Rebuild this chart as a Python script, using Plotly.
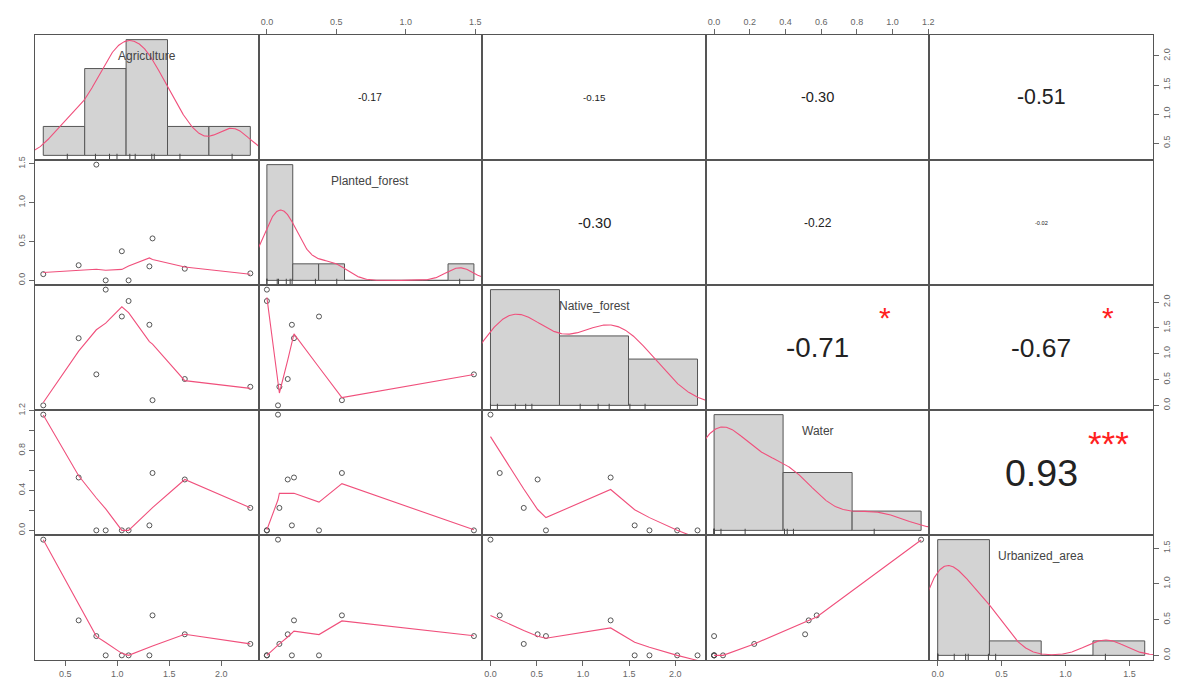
import numpy as np
import plotly.graph_objects as go

# ---------------- data ----------------
var_names = ["Agriculture", "Planted_forest", "Native_forest", "Water", "Urbanized_area"]
agriculture = [0.29, 0.63, 0.80, 0.89, 1.045, 1.11, 1.31, 1.34, 1.65, 2.28]
planted_forest = [0.08, 0.195, 1.49, 0.0, 0.375, 0.0, 0.18, 0.54, 0.15, 0.09]
native_forest = [0.0, 1.30, 0.60, 2.24, 1.72, 2.02, 1.56, 0.10, 0.51, 0.36]
water = [1.16, 0.53, 0.0, 0.0, 0.0, 0.0, 0.05, 0.575, 0.51, 0.225]
urbanized_area = [1.62, 0.49, 0.27, 0.0, 0.0, 0.0, 0.0, 0.56, 0.295, 0.16]

hist_bin_width = [0.5, 0.2, 1.0, 0.5, 0.5]

cor_pairs = [(0, 1), (0, 2), (0, 3), (0, 4), (1, 2), (1, 3), (1, 4), (2, 3), (2, 4), (3, 4)]
cor_values = [-0.17, -0.15, -0.30, -0.51, -0.30, -0.22, -0.02, -0.71, -0.67, 0.93]
cor_stars = ["", "", "", "", "", "", "", "*", "*", "***"]

tick_values = [
    [0.5, 1.0, 1.5, 2.0],
    [0.0, 0.5, 1.0, 1.5],
    [0.0, 0.5, 1.0, 1.5, 2.0],
    [0.0, 0.2, 0.4, 0.6, 0.8, 1.0, 1.2],
    [0.0, 0.5, 1.0, 1.5],
]
tick_labels = [
    ["0.5", "1.0", "1.5", "2.0"],
    ["0.0", "0.5", "1.0", "1.5"],
    ["0.0", "0.5", "1.0", "1.5", "2.0"],
    ["0.0", "0.2", "0.4", "0.6", "0.8", "1.0", "1.2"],
    ["0.0", "0.5", "1.0", "1.5"],
]
tick_labels_left_water = ["0.0", "", "0.4", "", "0.8", "", "1.2"]

data = [np.array(v, dtype=float) for v in
        (agriculture, planted_forest, native_forest, water, urbanized_area)]
N = len(data)

# ---------------- helpers ----------------
RED = "#f0507c"
BOX = "#555555"
TICKC = "#666666"
FONT = "Liberation Sans, Arial, sans-serif"


def pad(lo, hi):
    d = hi - lo
    return [lo - 0.04 * d, hi + 0.04 * d]


def lowess(x, y, f=2 / 3, it=3):
    o = np.argsort(x, kind="mergesort")
    x = np.asarray(x, float)[o]
    y = np.asarray(y, float)[o]
    n = len(x)
    ns = max(2, min(n, int(f * n + 1e-7)))
    rw = np.ones(n)
    ys = np.zeros(n)
    rng = x[-1] - x[0]
    for iteration in range(it + 1):
        nleft, nright = 0, ns - 1
        for i in range(n):
            xs = x[i]
            while nright < n - 1 and xs - x[nleft] > x[nright + 1] - xs:
                nleft += 1
                nright += 1
            h = max(xs - x[nleft], x[nright] - xs)
            h9, h1 = 0.999 * h, 0.001 * h
            w = np.zeros(n)
            for j in range(nleft, n):
                r = abs(x[j] - xs)
                if r <= h9:
                    w[j] = 1.0 if r <= h1 else (1 - (r / h) ** 3) ** 3
                    w[j] *= rw[j]
                elif x[j] > xs:
                    break
            s = w.sum()
            if s <= 0:
                ys[i] = y[i]
                continue
            w = w / s
            if h > 0:
                a = np.sum(w * x)
                b = xs - a
                c = np.sum(w * (x - a) ** 2)
                if np.sqrt(c) > 0.001 * rng:
                    b /= c
                    w = w * (b * (x - a) + 1)
            ys[i] = np.sum(w * y)
        if iteration == it:
            break
        res = y - ys
        sc = np.mean(np.abs(res))
        cmad = 6 * np.median(np.abs(res))
        if cmad < 1e-7 * sc or cmad == 0:
            break
        r = np.abs(res)
        rw = np.where(r <= 0.001 * cmad, 1.0,
                      np.where(r <= 0.999 * cmad, (1 - (r / cmad) ** 2) ** 2, 0.0))
    return x, ys


def density(x, n=512):
    x = np.asarray(x, float)
    sd = np.std(x, ddof=1)
    q1, q3 = np.percentile(x, [25, 75])
    lo = min(sd, (q3 - q1) / 1.34)
    if lo <= 0:
        lo = sd if sd > 0 else (abs(x[0]) if x[0] != 0 else 1.0)
    bw = 0.9 * lo * len(x) ** (-0.2)
    g = np.linspace(x.min() - 3 * bw, x.max() + 3 * bw, n)
    d = np.exp(-0.5 * ((g[:, None] - x[None, :]) / bw) ** 2).sum(axis=1) / (len(x) * bw * np.sqrt(2 * np.pi))
    return g, d


def hist(x, bw):
    b0 = np.floor(x.min() / bw + 1e-9) * bw
    b1 = np.ceil(x.max() / bw - 1e-9) * bw
    nb = int(round((b1 - b0) / bw))
    breaks = b0 + bw * np.arange(nb + 1)
    counts = np.zeros(nb)
    for v in x:
        for k in range(nb):
            lo, hi = breaks[k], breaks[k + 1]
            if (v > lo + 1e-12 or (k == 0 and v >= lo - 1e-12)) and v <= hi + 1e-12:
                counts[k] += 1
                break
    dens = counts / (len(x) * bw)
    return breaks, dens


def ax_id(k):
    return "" if k == 1 else str(k)


fig = go.Figure()
# the page body has an 8px margin: the figure is sized so that it fits the
# window without overflow and the panels land where the reference has them
layout = dict(
    width=1164, height=671,
    margin=dict(l=27, r=19, t=27, b=19, autoexpand=False),
    plot_bgcolor="white", paper_bgcolor="white",
    showlegend=False,
    font=dict(family=FONT, color="#444"),
)
annotations = []

base_axis = dict(showgrid=False, zeroline=False, showline=True, mirror=True,
                 linecolor=BOX, linewidth=1, ticks="", showticklabels=False,
                 fixedrange=True, automargin=False)

tick_style = dict(ticks="outside", ticklen=5, tickwidth=1, tickcolor=TICKC,
                  showticklabels=True, tickfont=dict(size=9, color=TICKC, family=FONT))

var_ranges = [pad(d.min(), d.max()) for d in data]

for i in range(N):
    for j in range(N):
        k = i * N + j + 1
        sid = ax_id(k)
        xd = [j / N, (j + 1) / N]
        yd = [1 - (i + 1) / N, 1 - i / N]
        xa = dict(base_axis, domain=xd, anchor="y" + sid)
        ya = dict(base_axis, domain=yd, anchor="x" + sid)

        if i == j:
            x = data[i]
            breaks, dens = hist(x, hist_bin_width[i])
            xr = pad(breaks[0], breaks[-1])
            yr = pad(0, dens.max())
            xa["range"] = xr
            ya["range"] = yr
            centers = (breaks[:-1] + breaks[1:]) / 2
            fig.add_trace(go.Bar(
                x=centers, y=dens, width=hist_bin_width[i],
                marker=dict(color="#d3d3d3", line=dict(color=BOX, width=1)),
                xaxis="x" + sid, yaxis="y" + sid, hoverinfo="skip"))
            g, d = density(x)
            fig.add_trace(go.Scatter(
                x=g, y=d, mode="lines", line=dict(color=RED, width=1.1),
                xaxis="x" + sid, yaxis="y" + sid, hoverinfo="skip"))
            # rug
            ybot = yr[0]
            ytop = yr[0] + 0.05 * (yr[1] - yr[0])
            rx, ry = [], []
            for v in x:
                rx += [v, v, None]
                ry += [ybot, ytop, None]
            fig.add_trace(go.Scatter(
                x=rx, y=ry, mode="lines", line=dict(color="#444", width=1),
                xaxis="x" + sid, yaxis="y" + sid, hoverinfo="skip"))
            annotations.append(dict(
                text=var_names[i], x=0.5, y=0.833, xanchor="center", yanchor="middle",
                xref="x" + sid + " domain", yref="y" + sid + " domain",
                showarrow=False, font=dict(size=12, color="#444", family=FONT)))
        else:
            xa["range"] = var_ranges[j]
            ya["range"] = var_ranges[i]
            if i > j:
                fig.add_trace(go.Scatter(
                    x=data[j], y=data[i], mode="markers",
                    marker=dict(symbol="circle-open", size=5, color="#444",
                                line=dict(width=0.9)),
                    xaxis="x" + sid, yaxis="y" + sid, hoverinfo="skip"))
                lx, ly = lowess(data[j], data[i])
                fig.add_trace(go.Scatter(
                    x=lx, y=ly, mode="lines", line=dict(color=RED, width=1.1),
                    xaxis="x" + sid, yaxis="y" + sid, hoverinfo="skip"))
            else:
                # empty trace so the panel (and its axes) is drawn
                fig.add_trace(go.Scatter(
                    x=[None], y=[None], mode="markers",
                    xaxis="x" + sid, yaxis="y" + sid, hoverinfo="skip"))
                idx = cor_pairs.index((i, j))
                r = cor_values[idx]
                txt = f"{r:.2f}"
                size = 32 * abs(r) + 5
                if not txt.startswith("-"):
                    size *= 1.08
                annotations.append(dict(
                    text=txt, x=0.5, y=0.5, xanchor="center", yanchor="middle",
                    xref="x" + sid + " domain", yref="y" + sid + " domain",
                    showarrow=False, font=dict(size=size, color="#222", family=FONT)))
                if cor_stars[idx]:
                    ssize = 30 if txt.startswith("-") else 35
                    annotations.append(dict(
                        text=cor_stars[idx], x=0.8, y=0.8, xanchor="center", yanchor="middle",
                        xref="x" + sid + " domain", yref="y" + sid + " domain",
                        showarrow=False, yshift=-0.25 * ssize,
                        font=dict(size=ssize, color="#ff2020", family=FONT)))

        # outer axes (R pairs style: alternating sides)
        if i == N - 1 and j % 2 == 0 and i != j:
            xa.update(tick_style, side="bottom", tickvals=tick_values[j], ticktext=tick_labels[j])
        if i == 0 and j % 2 == 1:
            xa.update(tick_style, side="top", tickvals=tick_values[j], ticktext=tick_labels[j])
        if j == 0 and i % 2 == 1:
            tt = tick_labels_left_water if i == 3 else tick_labels[i]
            ya.update(tick_style, side="left", tickvals=tick_values[i], ticktext=tt, tickangle=-90)
        if j == N - 1 and i % 2 == 0 and i != j:
            ya.update(tick_style, side="right", tickvals=tick_values[i], ticktext=tick_labels[i], tickangle=-90)

        layout["xaxis" + sid] = xa
        layout["yaxis" + sid] = ya

# overlay axes for the bottom-right diagonal panel (variable scale)
kk = N * N + 1
last = N - 1
layout[f"xaxis{kk}"] = dict(tick_style, domain=[last / N, 1.0], range=var_ranges[last],
                           overlaying=f"x{N * N}", anchor=f"y{kk}", side="bottom",
                           tickvals=tick_values[last], ticktext=tick_labels[last],
                           showgrid=False, zeroline=False, showline=False, fixedrange=True,
                           automargin=False)
layout[f"yaxis{kk}"] = dict(tick_style, domain=[0.0, 1 / N], range=var_ranges[last],
                           overlaying=f"y{N * N}", anchor=f"x{kk}", side="right",
                           tickvals=tick_values[last], ticktext=tick_labels[last], tickangle=-90,
                           showgrid=False, zeroline=False, showline=False, fixedrange=True,
                           automargin=False)
fig.add_trace(go.Scatter(x=[None], y=[None], xaxis=f"x{kk}", yaxis=f"y{kk}",
                         mode="markers", hoverinfo="skip"))

layout["annotations"] = annotations
fig.update_layout(**layout)
fig.write_html("out.html", config={"displayModeBar": False})
